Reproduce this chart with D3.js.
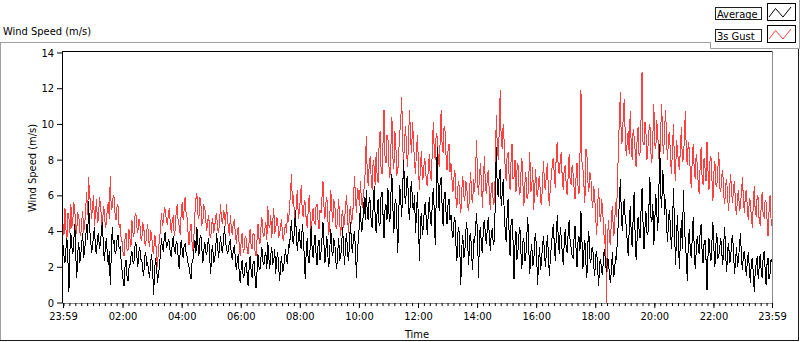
<!DOCTYPE html>
<html>
<head>
<meta charset="utf-8">
<script src="https://cdn.jsdelivr.net/npm/d3@7"></script>
<style>
  body { margin: 0; background: #fff; }
  svg { display: block; }
  text { font-family: "DejaVu Sans Condensed", "Liberation Sans", sans-serif; font-size: 11px; fill: #000; }
</style>
</head>
<body>
<script>
// wind speed, one reading every 2 minutes from 23:59 to 23:59 next day
var avgSpeed = [
  3.2, 2.6, 2.2, 3.0, 3.6, 2.4, 0.6, 2.9, 3.9, 3.1, 2.7, 3.5, 4.4, 2.6, 1.4, 2.8,
  3.4, 2.2, 2.6, 3.3, 3.9, 2.5, 2.9, 3.6, 4.4, 3.5, 5.7, 4.1, 3.6, 2.8,
  3.1, 3.8, 4.2, 2.9, 2.8, 3.6, 3.9, 3.0, 3.3, 4.0, 4.5, 3.2, 2.3, 3.1, 3.6, 2.7, 2.1, 2.9,
  1.0, 2.6, 4.2, 3.3, 3.5, 2.7, 2.9, 3.6, 3.8, 3.0, 3.1, 2.4,
  1.8, 1.3, 0.9, 2.0, 2.4, 1.5, 1.2, 1.9, 2.1, 2.6,
  2.9, 2.3, 2.2, 3.1, 3.4, 2.6, 2.0, 2.8, 3.1, 2.4,
  2.4, 1.8, 1.5, 2.6, 2.8, 2.1,
  2.2, 1.7, 1.4, 2.3, 2.7, 1.9, 0.4, 1.8, 2.5, 2.0, 1.1, 1.6, 2.0, 2.8,
  3.6, 3.0, 2.9, 3.8, 3.9, 3.1, 3.2, 3.5,
  3.4, 2.7, 2.6, 3.3, 3.7, 2.9, 2.8, 3.4, 3.3, 2.5, 1.9, 2.8, 3.5, 3.0, 2.5, 3.2,
  3.3, 2.8, 2.6, 2.2, 2.0, 1.6, 1.3, 2.2, 2.4, 3.0,
  3.5, 2.8, 4.2, 3.3, 2.6, 3.6, 3.8, 3.0, 2.2, 2.9, 3.4, 2.8,
  2.7, 3.3, 3.6, 2.5, 1.6, 2.9, 3.2, 2.2, 2.4, 3.0, 3.9, 3.2, 2.5, 3.1,
  3.7, 3.0, 2.8, 3.5, 4.3, 3.4, 3.1, 2.7,
  2.9, 3.4, 3.5, 2.6, 2.4, 3.0, 3.2, 2.5,
  1.8, 2.4, 2.7, 1.6, 1.1, 2.0, 2.4, 1.4, 1.5, 2.1,
  2.2, 1.6, 0.9, 1.9, 2.6, 1.8, 1.4, 2.2, 2.3, 1.5, 0.8, 1.7,
  2.7, 2.0, 1.8, 2.5, 3.1, 2.3, 2.1, 2.6, 2.8, 1.9,
  3.4, 2.5, 1.9, 2.7, 3.1, 2.2, 2.3, 3.0, 1.6, 2.4, 2.8, 2.0,
  1.2, 2.1, 2.6, 1.7, 1.9, 2.5, 3.0, 2.3, 2.2, 3.2,
  3.1, 3.9, 4.6, 3.5, 3.3, 4.0, 5.2, 3.7, 2.9, 3.6, 4.1, 3.2, 3.0, 4.4, 3.8, 2.6,
  1.3, 2.9, 3.6, 2.4, 2.2, 3.1, 4.3, 3.0,
  2.5, 3.3, 3.8, 2.7, 2.1, 3.2, 3.5, 2.4, 2.8, 3.6,
  4.5, 3.3, 2.2, 3.0, 3.7, 2.6, 2.0, 3.1, 4.1, 2.9, 2.6, 3.5, 3.4, 2.3,
  1.9, 2.8, 3.6, 2.4, 2.5, 3.3, 4.2, 2.9, 2.1, 3.4, 3.9, 2.7, 2.3, 3.5, 4.5, 3.2, 2.8, 3.7,
  4.0, 3.0, 1.4, 2.9, 3.5, 4.4,
  5.4, 4.0, 4.1, 5.0, 5.9, 4.6,
  6.3, 5.0, 4.6, 5.9, 5.7, 4.5, 4.2, 5.4, 6.5, 4.8,
  3.9, 5.1, 5.8, 4.3, 4.4, 6.0, 6.2, 4.9, 3.6, 5.2, 5.5, 4.6,
  6.4, 5.0, 4.5, 6.1, 7.2, 5.3, 3.9, 5.5, 5.8, 4.4, 2.8, 5.1,
  6.6, 5.7, 4.8, 6.5, 8.0, 6.0, 5.5, 6.9, 7.1, 5.2, 4.6, 6.3, 6.8, 5.4, 5.2, 6.0,
  3.9, 5.0, 6.2, 4.4, 2.3, 4.6, 5.0, 3.8, 4.2, 5.3,
  5.6, 4.5, 3.8, 5.1, 5.9, 4.7, 4.3, 5.5,
  6.4, 5.2, 3.2, 5.8, 8.7, 6.3, 5.1, 6.8, 7.0, 5.4, 4.3, 5.9, 6.2, 5.0,
  4.4, 5.5, 5.8, 4.6, 4.9, 4.0,
  3.6, 4.5, 4.8, 3.3, 2.3, 3.9, 4.2, 2.9, 1.0, 3.1, 3.8, 2.5, 2.7, 4.0,
  4.5, 3.2, 2.1, 3.7, 3.9, 2.6, 1.8, 3.5, 3.4, 4.2,
  5.0, 3.6, 1.4, 3.9, 4.2, 3.0, 2.8, 4.4, 4.6, 3.7,
  3.3, 4.3, 4.8, 3.6, 2.9, 4.0, 4.1, 3.2, 3.5, 5.6,
  8.7, 6.4, 5.9, 7.2, 7.5, 5.4, 6.1, 6.9,
  5.2, 4.1, 3.4, 4.9, 5.8, 3.9, 2.6, 4.4, 4.7, 3.5, 1.3, 3.2, 4.0, 2.4, 2.9, 3.8,
  4.2, 2.8, 1.9, 3.4, 3.6, 2.3, 2.5, 3.7, 4.8, 3.0, 1.6, 2.7, 3.3, 2.1,
  2.2, 3.5, 3.9, 2.6, 1.0, 2.4, 3.1, 1.8, 2.4, 3.2, 3.7, 2.7,
  2.0, 3.0, 3.8, 2.5, 1.5, 2.6, 3.2, 3.9,
  4.4, 3.1, 2.3, 3.8, 4.9, 3.5, 2.7, 4.2, 3.6, 2.8, 2.1, 3.3, 4.1, 3.0,
  2.8, 3.9, 4.6, 3.4, 3.1, 2.6,
  2.5, 3.6, 4.3, 3.0, 2.0, 3.4, 3.7, 2.9, 5.1, 3.5,
  1.9, 2.9, 3.5, 2.2, 1.4, 3.3, 4.0, 2.5, 2.2, 3.0, 3.1, 2.0,
  1.5, 2.6, 2.9, 1.8, 0.9, 2.3, 2.4, 1.7, 1.6, 2.7, 3.0, 2.1,
  1.7, 2.5, 2.3, 1.4,
  1.1, 2.0, 2.8, 1.5, 1.6, 2.6, 2.4, 3.6,
  4.5, 5.6, 6.9, 5.0, 4.0, 5.3, 5.8, 4.6,
  4.3, 3.4, 2.6, 4.1, 5.4, 4.0, 3.1, 4.7, 6.2, 3.8, 2.4, 3.5, 4.8, 4.1, 3.6, 5.2,
  6.4, 4.5, 3.0, 4.2, 5.1, 3.9,
  3.8, 5.3, 7.0, 4.8, 4.5, 5.5, 3.2, 4.6, 6.1, 5.0, 4.0, 5.8, 8.9, 6.0, 5.3, 7.4,
  6.7, 4.9,
  5.8, 4.2, 3.4, 4.8,
  5.2, 3.9, 3.0, 4.5, 6.4, 4.2, 2.1, 3.6, 4.9, 3.3,
  1.9, 3.5, 4.6, 3.0, 6.3, 4.4, 3.3, 2.5, 1.2, 3.4,
  4.1, 3.0, 2.5, 3.6, 4.8, 3.1, 1.9, 2.8, 3.7, 3.2, 2.7, 3.9, 4.4, 2.9, 2.2, 3.3,
  3.5, 2.4,
  0.7, 2.6, 3.6, 2.8, 2.3, 3.4, 4.5, 3.0, 2.0, 3.2, 3.9, 2.5, 2.6, 3.1,
  3.6, 2.8, 2.1, 3.3, 4.2, 2.6, 1.7, 3.0, 3.3, 2.2, 2.4, 3.5,
  3.8, 2.7, 1.6, 2.4, 3.1, 2.0, 2.4, 3.2, 3.9, 2.5, 1.8, 2.7, 2.9, 2.1,
  1.5, 2.4, 2.8, 1.9, 1.1, 2.2, 2.5, 1.6, 0.6, 1.8, 2.2, 2.6, 1.3, 2.0,
  2.7, 1.8, 1.4, 2.5, 2.9, 1.9, 1.0, 2.2, 2.5, 1.3, 1.6, 2.4, 2.3
];

var gustSpeed = [
  4.4, 3.8, 5.3, 4.1, 3.6, 5.0, 4.8, 3.9, 5.5, 4.2, 4.6, 5.6, 5.2, 3.8, 4.1, 5.0,
  4.9, 4.0, 3.7, 4.6, 5.1, 3.9, 4.3, 5.2, 6.2, 4.9, 7.0, 6.0, 5.6, 4.7,
  5.4, 6.0, 4.3, 5.0, 5.8, 4.5, 4.6, 5.9, 5.5, 4.8, 4.0, 5.4, 5.1, 4.2, 4.4, 5.3, 5.6, 4.7,
  7.1, 5.2, 5.3, 6.0, 5.9, 4.8, 4.6, 5.5, 5.4, 4.2, 4.4, 3.6,
  3.4, 2.8, 2.6, 3.6, 3.9, 3.0, 2.9, 4.1, 3.6, 3.1,
  4.6, 3.9, 3.7, 4.8, 5.0, 4.2, 3.9, 4.7, 4.5, 3.6,
  3.5, 4.4, 4.3, 3.3, 3.2, 4.0,
  4.4, 3.5, 3.1, 4.0, 3.9, 2.9, 2.7, 3.8, 3.6, 2.6, 2.0, 3.1, 3.4, 4.2,
  5.0, 4.3, 4.6, 5.3, 5.2, 4.5, 4.4, 4.9,
  5.3, 4.4, 3.9, 4.7, 4.8, 3.7, 4.1, 5.1, 5.5, 4.5, 4.3, 3.8, 5.0, 5.6, 4.6, 5.2,
  5.9, 5.0, 4.8, 3.9, 3.2, 4.0, 4.4, 3.4, 2.9, 3.8,
  5.0, 5.8, 6.1, 4.9, 4.7, 5.9, 5.6, 4.4, 4.5, 5.4, 5.3, 4.6,
  4.0, 4.6, 4.9, 3.8, 3.6, 4.4, 4.7, 3.9, 4.2, 4.8, 5.0, 4.1, 3.9, 4.5,
  5.5, 4.6, 4.4, 5.1, 5.0, 4.3, 5.5, 4.7,
  4.2, 3.7, 4.9, 4.1, 3.8, 4.5, 4.6, 3.9,
  3.3, 4.0, 4.2, 3.1, 2.6, 3.5, 3.9, 2.8, 3.0, 3.7,
  3.6, 3.0, 2.7, 3.4, 4.1, 3.2, 3.0, 3.9, 3.8, 2.9, 2.6, 3.5,
  4.4, 3.6, 3.3, 4.2, 4.8, 3.9, 3.7, 4.1, 4.5, 3.5,
  5.4, 4.3, 4.2, 4.9, 3.6, 4.5, 5.3, 3.9, 4.0, 4.8, 4.6, 3.7,
  3.8, 4.3, 4.7, 3.6, 3.5, 4.1, 4.4, 3.9, 5.0, 4.5,
  5.3, 6.1, 7.2, 5.5, 6.0, 4.9, 4.5, 5.6, 6.3, 4.7, 5.1, 5.8, 6.6, 5.0, 4.8, 5.7,
  5.6, 4.6, 4.2, 5.1, 6.0, 4.9, 3.8, 4.7,
  5.3, 4.5, 4.4, 5.4, 5.5, 4.6, 4.1, 5.2, 5.0, 5.9,
  6.8, 5.4, 4.7, 5.6, 5.9, 4.6, 3.8, 4.9, 6.3, 5.2, 4.5, 5.7, 5.6, 4.3,
  4.1, 5.0, 5.8, 4.5, 3.7, 4.8, 5.2, 4.2, 4.6, 5.5, 6.0, 4.7, 3.9, 5.1, 5.4, 4.4, 4.8, 5.7,
  7.1, 5.9, 5.0, 6.4, 6.2, 5.4,
  6.8, 5.8, 5.3, 6.1, 6.5, 7.4,
  9.3, 7.2, 6.5, 7.8, 8.2, 6.9, 6.3, 8.0, 7.6, 6.6,
  8.4, 7.1, 6.7, 8.8, 9.6, 7.5, 7.2, 9.0, 10.8, 8.2, 7.8, 9.4,
  9.2, 7.6, 7.0, 8.7, 10.4, 8.1, 7.5, 9.6, 8.8, 7.2, 7.3, 8.5,
  9.5, 10.2, 11.5, 8.6, 8.0, 9.2, 9.9, 8.3, 7.6, 9.4, 10.8, 9.1, 8.4, 10.1, 9.0, 7.8,
  7.2, 8.6, 9.4, 7.5, 6.3, 7.7, 8.5, 6.9, 7.0, 8.1,
  7.8, 6.7, 6.5, 7.5, 8.3, 7.0, 6.9, 8.4,
  10.1, 8.5, 8.0, 9.5, 9.3, 8.1, 7.6, 9.0, 10.8, 8.8, 8.4, 9.9, 9.6, 8.2,
  7.4, 8.5, 8.9, 7.3, 7.8, 6.9,
  6.2, 7.0, 7.4, 5.9, 5.3, 6.5, 6.8, 5.6, 5.0, 6.3, 7.1, 6.0, 5.7, 6.8,
  6.6, 5.4, 5.1, 6.4, 7.3, 5.8, 5.6, 6.9, 6.2, 7.4,
  9.1, 6.8, 6.0, 7.2, 7.8, 6.5, 5.3, 7.0, 8.2, 6.4,
  6.1, 7.1, 7.4, 6.0, 5.2, 6.6, 6.7, 5.5, 5.6, 7.3,
  10.5, 8.8, 8.0, 9.6, 11.9, 9.1, 8.6, 10.0,
  9.0, 7.6, 6.8, 8.2, 8.4, 7.1, 6.3, 7.9, 8.9, 6.9, 7.0, 8.0, 6.2, 7.4, 7.8, 6.5,
  6.0, 7.2, 8.1, 6.7, 5.4, 6.6, 7.3, 5.9, 5.8, 7.0, 8.4, 6.2, 6.4, 7.6,
  5.2, 6.3, 7.5, 6.1, 5.9, 6.9, 7.1, 5.6, 5.5, 6.8, 7.9, 6.5,
  6.3, 7.4, 7.8, 6.1, 5.4, 6.7, 7.0, 7.9,
  8.1, 7.0, 6.4, 8.6, 9.0, 7.4, 7.2, 8.0, 8.4, 6.9, 6.3, 7.5, 7.7, 6.6,
  6.0, 7.1, 8.3, 6.8, 6.6, 7.7,
  7.2, 6.4, 5.8, 7.0, 7.8, 6.5, 6.1, 8.2, 11.9, 7.9,
  7.5, 6.6, 5.6, 8.6, 8.4, 6.8, 6.2, 7.3, 7.1, 5.8, 5.3, 6.5,
  5.9, 4.7, 3.8, 5.5, 6.4, 4.9, 4.5, 5.8, 5.2, 4.1, 3.3, 4.4,
  0.0, 3.7, 4.6, 3.5,
  3.2, 4.9, 5.4, 3.8, 3.9, 5.6, 4.8, 6.5,
  8.6, 10.2, 11.8, 8.9, 9.0, 10.6, 11.4, 9.3,
  8.2, 9.0, 9.6, 8.3, 10.7, 8.9, 8.0, 9.7, 9.3, 8.5, 7.6, 9.1, 9.8, 8.2, 8.4, 10.3,
  12.9, 9.0, 8.8, 10.1, 9.5, 8.0,
  8.7, 9.6, 10.0, 8.4, 7.8, 9.3, 11.1, 8.8, 8.6, 10.2, 9.4, 8.1, 7.9, 9.7, 11.1, 9.0,
  8.3, 9.8,
  10.8, 8.9, 8.0, 9.4,
  9.5, 7.9, 7.2, 8.8, 10.0, 7.6, 6.8, 9.1, 8.6, 7.8,
  7.4, 8.7, 9.8, 7.9, 8.0, 9.2, 10.7, 8.3, 7.7, 9.0,
  8.6, 7.3, 6.4, 8.0, 8.9, 7.5, 6.9, 8.3, 7.8, 6.7, 6.1, 7.6, 8.7, 7.0, 6.6, 8.1,
  7.5, 6.8,
  9.0, 7.4, 6.3, 7.9, 8.2, 6.9, 5.7, 7.3, 7.9, 6.6, 6.5, 7.5, 8.4, 6.4,
  6.2, 7.1, 7.4, 6.0, 5.5, 6.6, 6.9, 5.8, 5.1, 6.4, 7.2, 6.1,
  5.6, 6.5, 6.8, 5.3, 4.9, 6.0, 6.3, 5.1, 5.4, 6.2, 7.0, 5.7, 5.0, 6.1,
  6.3, 5.2, 4.6, 5.8, 5.7, 4.8, 4.2, 5.5, 6.5, 5.0, 4.9, 6.0, 5.9, 4.5,
  4.4, 5.3, 6.2, 4.9, 4.8, 5.7, 5.6, 4.6, 3.7, 5.1, 6.0, 4.7, 4.3
];

var yTicks = [0, 2, 4, 6, 8, 10, 12, 14];
var seriesNames = ["Average", "3s Gust"];
var stepMinutes = 2;

var black = "#000000", red = "#ff4040", frameGrey = "#a0a0a0";

var svg = d3.select("body").append("svg")
    .attr("width", 800)
    .attr("height", 342);

var start = new Date(2000, 0, 1, 23, 59);
var end = d3.timeDay.offset(start, 1);

var x = d3.scaleTime().domain([start, end]).range([63, 772]);
var y = d3.scaleLinear().domain([0, 14]).range([302.5, 52.5]);

// outer panel
svg.append("line").attr("x1", 0).attr("y1", 42.5).attr("x2", 711).attr("y2", 42.5)
    .style("stroke", frameGrey);
svg.append("line").attr("x1", 0.5).attr("y1", 42.5).attr("x2", 0.5).attr("y2", 340)
    .style("stroke", frameGrey);
svg.append("line").attr("x1", 798.5).attr("y1", 48).attr("x2", 798.5).attr("y2", 341)
    .style("stroke", "#1a1a1a");
svg.append("line").attr("x1", 0).attr("y1", 340.5).attr("x2", 799).attr("y2", 340.5)
    .style("stroke", "#1a1a1a");

svg.append("text")
    .attr("x", 3)
    .attr("y", 35)
    .text("Wind Speed (m/s)");

// legend panel
svg.append("path")
    .attr("d", "M710.5,42.5V48.5H799.5V0")
    .style("fill", "none")
    .style("stroke", frameGrey);

var legend = svg.append("g").selectAll("g")
    .data(seriesNames)
    .enter()
    .append("g")
    .attr("transform", function(d, i) { return "translate(0," + (i * 22) + ")"; });

legend.append("rect")
    .attr("x", 715.5).attr("y", 7.5)
    .attr("width", 46).attr("height", 12)
    .style("fill", "#fff")
    .style("stroke", "#202020");

legend.append("text")
    .attr("x", 717)
    .attr("y", 17.5)
    .text(function(d) { return d; });

legend.append("rect")
    .attr("x", 767.5).attr("y", 3.5)
    .attr("width", 28).attr("height", 17)
    .style("fill", "#fff")
    .style("stroke", "#000");

legend.append("path")
    .attr("d", "M769,17L775.5,8.5L783,17L791,7")
    .style("fill", "none")
    .style("stroke", function(d, i) { return i == 0 ? black : red; });

// plot area
svg.append("rect")
    .attr("x", 63).attr("y", 52)
    .attr("width", 709).attr("height", 251)
    .style("fill", "#fff");

svg.append("clipPath").attr("id", "clip")
    .append("rect")
    .attr("x", 63).attr("y", 52)
    .attr("width", 709).attr("height", 251);

var line = d3.line()
    .x(function(d, i) { return x(d3.timeMinute.offset(start, i * stepMinutes)); })
    .y(function(d) { return y(d); });

var plotG = svg.append("g").attr("clip-path", "url(#clip)");

// aliased 1px traces, like the instrument display
plotG.append("path")
    .datum(gustSpeed)
    .attr("d", line)
    .style("fill", "none")
    .style("stroke", red)
    .style("stroke-width", 1)
    .style("shape-rendering", "crispEdges");

plotG.append("path")
    .datum(avgSpeed)
    .attr("d", line)
    .style("fill", "none")
    .style("stroke", black)
    .style("stroke-width", 1)
    .style("shape-rendering", "crispEdges");

svg.append("line").attr("x1", 62).attr("y1", 51.5).attr("x2", 772.5).attr("y2", 51.5)
    .style("stroke", "#000");
svg.append("line").attr("x1", 62.5).attr("y1", 51.5).attr("x2", 62.5).attr("y2", 303.5)
    .style("stroke", "#000");
svg.append("line").attr("x1", 772.5).attr("y1", 51.5).attr("x2", 772.5).attr("y2", 303.5)
    .style("stroke", "#8c8c8c");
svg.append("line").attr("x1", 62).attr("y1", 303.5).attr("x2", 773).attr("y2", 303.5)
    .style("stroke", "#8c8c8c");

// y axis
var yAxis = svg.append("g")
    .attr("transform", "translate(62,0)")
    .call(d3.axisLeft(y).tickValues(yTicks).tickSize(5).tickPadding(3));
yAxis.select(".domain").remove();
yAxis.selectAll("text").style("font-size", "11px").style("font-family", null);

svg.append("text")
    .attr("transform", "translate(35.5,168) rotate(-90)")
    .attr("text-anchor", "middle")
    .text("Wind Speed (m/s)");

// x axis, majors every 2 h plus the two ends
var majors = [start].concat(d3.timeHour.every(2).range(d3.timeHour.offset(start, 1), end), [end]);
var minors = d3.timeMinute.every(12).range(start, end);

var xMinor = svg.append("g")
    .attr("transform", "translate(0,303)")
    .call(d3.axisBottom(x).tickValues(minors).tickSize(3).tickFormat(""));
xMinor.select(".domain").remove();

var xAxis = svg.append("g")
    .attr("transform", "translate(0,303)")
    .call(d3.axisBottom(x).tickValues(majors).tickSize(5).tickPadding(4)
        .tickFormat(d3.timeFormat("%H:%M")));
xAxis.select(".domain").remove();
xAxis.selectAll("text").style("font-size", "11px").style("font-family", null);

svg.append("text")
    .attr("x", 417)
    .attr("y", 338)
    .attr("text-anchor", "middle")
    .text("Time");
</script>
</body>
</html>
